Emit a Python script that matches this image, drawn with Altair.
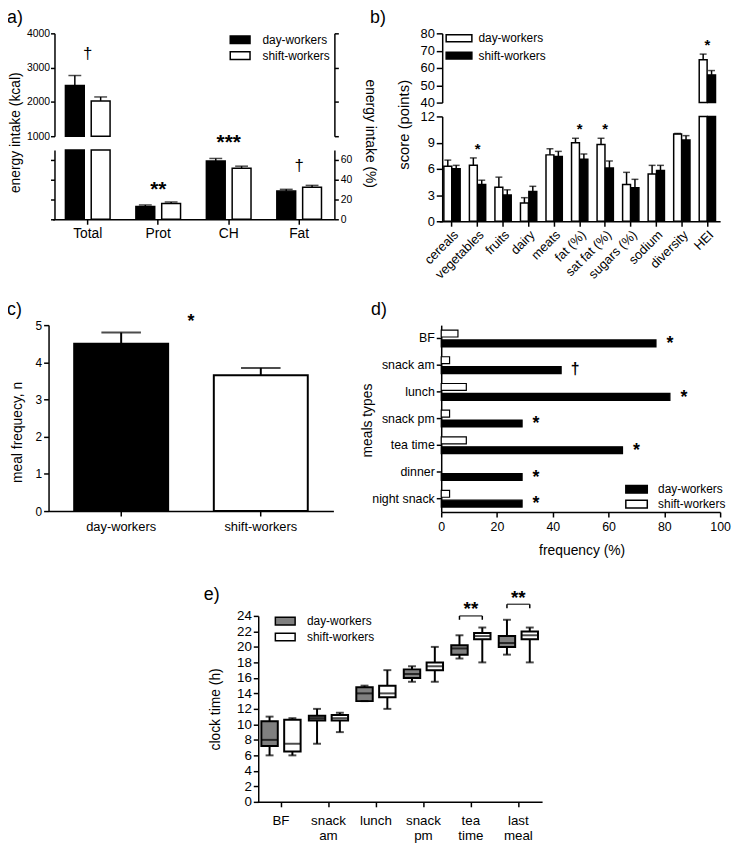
import altair as alt
import pandas as pd

FONT = "Liberation Sans"
W, H = 732, 837
OX, OY = 8, 8

groups = ["day-workers", "shift-workers"]
panel_letters = ["a)", "b)", "c)", "d)", "e)"]

# ---------------- panel a ----------------
a_categories = ["Total", "Prot", "CH", "Fat"]
a_day = [2480, 13, 59, 28.5]
a_day_err = [290, 1.5, 2.5, 1.8]
a_shift = [2030, 16, 51.5, 32.5]
a_shift_err = [115, 1.5, 2.2, 1.8]
a_sig = ["†", "**", "***", "†"]
a_sig_at = [3400, 31, 78, 54]
a_kcal_ticks = [1000, 2000, 3000, 4000]
a_pct_ticks = [0, 20, 40, 60]

# ---------------- panel b ----------------
b_categories = ["cereals", "vegetables", "fruits", "dairy", "meats", "fat (%)",
                "sat fat (%)", "sugars (%)", "sodium", "diversity", "HEI"]
b_day = [6.3, 6.4, 3.9, 2.1, 7.6, 9.0, 8.8, 4.2, 5.4, 10.0, 64.8]
b_day_err = [0.7, 0.85, 1.15, 0.6, 0.7, 0.5, 0.7, 1.4, 1.0, 0.05, 3.2]
b_shift = [6.0, 4.2, 3.0, 3.4, 7.4, 7.1, 6.1, 3.85, 5.8, 9.3, 56.0]
b_shift_err = [0.4, 0.5, 0.6, 0.6, 0.6, 0.6, 0.8, 0.95, 0.6, 0.5, 2.5]
b_sig_categories = ["vegetables", "fat (%)", "sat fat (%)", "HEI"]
b_sig_at = [8.3, 10.6, 10.6, 73.3]
b_high_ticks = [40, 50, 60, 70, 80]
b_low_ticks = [0, 3, 6, 9, 12]

# ---------------- panel c ----------------
c_mean = [4.5, 3.65]
c_err = [0.3, 0.2]
c_sig = ["*"]
c_sig_at = [5.07]
c_ticks = [0, 1, 2, 3, 4, 5]

# ---------------- panel d ----------------
d_categories = ["BF", "snack am", "lunch", "snack pm", "tea time", "dinner", "night snack"]
d_day = [77, 43, 82, 29, 65, 29, 29]
d_shift = [6, 3, 9, 3, 9, 0, 3]
d_sig = ["*", "†", "*", "*", "*", "*", "*"]
d_sig_at = [82, 48, 87, 34, 70, 34, 34]
d_ticks = [0, 20, 40, 60, 80, 100]

# ---------------- panel e ----------------
e_categories = ["BF", "snack am", "lunch", "snack pm", "tea time", "last meal"]
e_day_min = [6, 7.5, 13, 15.5, 18.5, 19]
e_day_q1 = [7.2, 10.5, 13, 16, 19, 20]
e_day_med = [8, 10.8, 14, 16.5, 19.8, 20.5]
e_day_q3 = [10.4, 11.1, 14.8, 17.1, 20.2, 21.4]
e_day_max = [11, 12, 15, 17.5, 21.5, 23.5]
e_shift_min = [6, 9, 12, 15.5, 18, 18]
e_shift_q1 = [6.5, 10.5, 13.5, 17, 21, 21]
e_shift_med = [7.5, 10.8, 14, 17.5, 21.4, 21.5]
e_shift_q3 = [10.6, 11.2, 15, 18, 21.8, 22]
e_shift_max = [10.8, 11.5, 17, 20, 22.5, 22.5]
e_pairs = ["tea time", "last meal"]
e_bracket_at = [24.0, 25.5]
e_leg_at = [23.5, 25.0]
e_sig = ["**", "**"]
e_sig_at = [25.1, 26.6]
e_ticks = list(range(0, 25, 2))


# ---------------- helpers ----------------
def grouped(cats, day, day_err, shift, shift_err):
    rows = []
    for c, v1, e1, v2, e2 in zip(cats, day, day_err, shift, shift_err):
        rows.append({"cat": c, "group": groups[0], "value": v1, "top": v1 + e1})
        rows.append({"cat": c, "group": groups[1], "value": v2, "top": v2 + e2})
    return pd.DataFrame(rows)


AX = dict(domainColor="black", domainWidth=1.5, tickColor="black", tickWidth=1.5,
          labelColor="black", titleColor="black", labelFont=FONT, titleFont=FONT,
          titleFontWeight="normal", grid=False, labelOverlap=False, labelFlush=False)


def axis(orient, at, **kw):
    if orient == "left":
        off = -(at - OX)
    elif orient == "right":
        off = (at - OX) - W
    else:
        off = (at - OY) - H
    opts = dict(AX)
    opts.update(kw)
    if "title" not in opts:
        opts["title"] = None
    return alt.Axis(orient=orient, offset=off, **opts)


def vtitle(text, cx, cy, at, size, angle=270):
    return dict(title=text, titleX=cx - at, titleY=cy - OY, titleAngle=angle,
                titleAlign="center", titleBaseline="middle", titleFontSize=size)


def htitle(text, cx, cy, at, size):
    return dict(title=text, titleX=cx - OX, titleY=cy - at, titleAngle=0,
                titleAlign="center", titleBaseline="middle", titleFontSize=size)


def band(cats, p0, p1, horiz=True, pi=0.0, po=0.0):
    o = OX if horiz else OY
    return alt.Scale(domain=cats, range=[p0 - o, p1 - o], paddingInner=pi, paddingOuter=po)


def lin(d0, d1, p0, p1, horiz=False, clamp=False):
    o = OX if horiz else OY
    return alt.Scale(domain=[d0, d1], range=[p0 - o, p1 - o], nice=False, zero=False, clamp=clamp)


def legend_rect(x_left, y_top, w, h, d, label_off, row_pad=0.0):
    sx, sy = w / d, h / d
    path = f"M{-sx:.3f},{-sy:.3f}H{sx:.3f}V{sy:.3f}H{-sx:.3f}Z"
    return alt.Legend(orient="none", legendX=x_left - OX, legendY=y_top - OY, title=None,
                      symbolType=path, symbolSize=d * d, symbolStrokeColor="black",
                      symbolStrokeWidth=1.5, labelFont=FONT, labelFontSize=12,
                      labelColor="black", labelOffset=label_off, rowPadding=row_pad, padding=0)


def bars(df, xs, xos, ys, base, fill, sw, xaxis=None, yaxis=None, legend=None, opacity=1.0):
    return alt.Chart(df).mark_bar(stroke="black", strokeWidth=sw, opacity=opacity).encode(
        x=alt.X("cat:N", scale=xs, axis=xaxis),
        xOffset=alt.XOffset("group:N", scale=xos),
        y=alt.Y("value:Q", scale=ys, axis=yaxis),
        y2=alt.datum(base),
        fill=alt.Fill("group:N", scale=fill, legend=legend),
    )


def errbars(df, xs, xos, ys, cap, sw=1.5):
    base = alt.Chart(df).encode(
        x=alt.X("cat:N", scale=xs, axis=None),
        xOffset=alt.XOffset("group:N", scale=xos),
    )
    r = base.mark_rule(color="black", strokeWidth=sw).encode(
        y=alt.Y("value:Q", scale=ys, axis=None), y2="top:Q")
    t = base.mark_tick(color="black", thickness=sw, size=cap, orient="horizontal").encode(
        y=alt.Y("top:Q", scale=ys, axis=None))
    return [r, t]


def sig(df, xs, ys, size, dy, weight="bold"):
    return alt.Chart(df).mark_text(font=FONT, fontSize=size, fontWeight=weight, dy=dy,
                                   baseline="middle", align="center", color="black").encode(
        x=alt.X("cat:N", scale=xs, axis=None),
        y=alt.Y("at:Q", scale=ys, axis=None),
        text="sig:N",
    )


layers = []

# ================= panel a =================
df_a = grouped(a_categories, a_day, a_day_err, a_shift, a_shift_err)
df_a_hi = df_a[df_a["cat"] == "Total"]
df_a_lo = df_a[df_a["cat"] != "Total"]
df_a_sig = pd.DataFrame({"cat": a_categories, "sig": a_sig, "at": a_sig_at})
xa = band(a_categories, 53, 338)
xoa = alt.Scale(domain=groups, paddingInner=0.27, paddingOuter=0.5)
fa = alt.Scale(domain=groups, range=["black", "white"])
ya_hi = lin(1000, 4000, 133, 29, clamp=True)
ya_lo = lin(0, 70, 217, 147, clamp=True)
ya_hi_t = lin(1000, 4000, 133, 29)
ya_lo_t = lin(0, 70, 217, 147)

layers += [
    bars(df_a_hi, xa, xoa, ya_hi, 1000, fa, 1.5,
         yaxis=axis("left", 55, values=a_kcal_ticks, format="d", labelFontSize=10.5, tickSize=4,
                    labelPadding=1, **vtitle("energy intake (kcal)", 16, 129, 55, 14)),
         legend=legend_rect(233.7, 26.5, 20, 7.7, 16, 13.6)),
    bars(df_a_hi, xa, xoa, ya_hi, 1000, fa, 0,
         yaxis=axis("right", 338, values=a_kcal_ticks, labels=False, tickSize=4), opacity=0),
    *errbars(df_a_hi, xa, xoa, ya_hi, 13),
    bars(df_a, xa, xoa, ya_lo, 0, fa, 1.5,
         xaxis=axis("bottom", 217, labelFontSize=14, labelAngle=0, tickSize=5, labelPadding=2),
         yaxis=axis("left", 55, values=a_pct_ticks, labels=False, tickSize=4)),
    bars(df_a, xa, xoa, ya_lo, 0, fa, 0,
         yaxis=axis("right", 338, values=a_pct_ticks, labelFontSize=10.5, tickSize=4, labelPadding=2,
                    **vtitle("energy intake (%)", 373, 130, 338, 14, angle=90)), opacity=0),
    *errbars(df_a_lo, xa, xoa, ya_lo, 13),
    sig(df_a_sig[df_a_sig["cat"] == "Total"], xa, ya_hi_t, 17, 0, "normal"),
    sig(df_a_sig[(df_a_sig["cat"] != "Total") & (df_a_sig["sig"] == "†")], xa, ya_lo_t, 17, 0, "normal"),
    sig(df_a_sig[df_a_sig["sig"].str.startswith("*")], xa, ya_lo_t, 21, 1),
]

# ================= panel b =================
df_b = grouped(b_categories, b_day, b_day_err, b_shift, b_shift_err)
df_b_hi = df_b[df_b["cat"] == "HEI"]
df_b_lo = df_b[df_b["cat"] != "HEI"]
df_b_sig = pd.DataFrame({"cat": b_sig_categories, "sig": ["*"] * len(b_sig_categories), "at": b_sig_at})
xb = band(b_categories, 444, 728)
xob = alt.Scale(domain=groups, paddingInner=0.06, paddingOuter=0.55)
fb = alt.Scale(domain=groups, range=["white", "black"])
yb_hi = lin(40, 80, 99, 29, clamp=True)
yb_lo = lin(0, 12, 219, 113, clamp=True)
yb_hi_t = lin(40, 80, 99, 29)
yb_lo_t = lin(0, 12, 219, 113)

layers += [
    bars(df_b_hi, xb, xob, yb_hi, 40, fb, 1.5,
         yaxis=axis("left", 447, values=b_high_ticks, labelFontSize=13, tickSize=6, labelPadding=2,
                    **vtitle("score (points)", 408, 121, 447, 15)),
         legend=legend_rect(454, 24, 26, 7, 18, 9.7, 0.5)),
    *errbars(df_b_hi, xb, xob, yb_hi, 7),
    bars(df_b, xb, xob, yb_lo, 0, fb, 1.5,
         xaxis=axis("bottom", 219, labelFontSize=13, labelAngle=315, tickSize=5, labelPadding=2),
         yaxis=axis("left", 447, values=b_low_ticks, labelFontSize=13, tickSize=6, labelPadding=2)),
    *errbars(df_b_lo, xb, xob, yb_lo, 7),
    sig(df_b_sig[df_b_sig["cat"] != "HEI"], xb, yb_lo_t, 15, 0),
    sig(df_b_sig[df_b_sig["cat"] == "HEI"], xb, yb_hi_t, 15, 0),
]

# ================= panel c =================
df_c = pd.DataFrame({"cat": groups, "group": groups, "value": c_mean,
                     "top": [m + e for m, e in zip(c_mean, c_err)]})
df_c_sig = pd.DataFrame({"cat": [groups[0]], "sig": c_sig, "at": c_sig_at})
xc = band(groups, 49, 337, po=0.02)
yc = lin(0, 5, 512, 324)
fc = alt.Scale(domain=groups, range=["black", "white"])
layers += [
    alt.Chart(df_c).mark_bar(size=95, stroke="black", strokeWidth=2).encode(
        x=alt.X("cat:N", scale=xc, axis=axis("bottom", 512, labelFontSize=13, labelAngle=0,
                                             tickSize=5, labelPadding=5)),
        y=alt.Y("value:Q", scale=yc, axis=axis("left", 49, values=c_ticks, labelFontSize=12,
                                               tickSize=5, labelPadding=2,
                                               **vtitle("meal frequecy, n", 18, 432, 49, 14))),
        y2=alt.datum(0),
        fill=alt.Fill("group:N", scale=fc, legend=None),
    ),
    alt.Chart(df_c).mark_rule(color="black", strokeWidth=2).encode(
        x=alt.X("cat:N", scale=xc, axis=None),
        y=alt.Y("value:Q", scale=yc, axis=None), y2="top:Q"),
    alt.Chart(df_c).mark_tick(color="black", thickness=2, size=40, orient="horizontal").encode(
        x=alt.X("cat:N", scale=xc, axis=None),
        y=alt.Y("top:Q", scale=yc, axis=None)),
    # star placed midway between the two bars (half a band step to the right)
    alt.Chart(df_c_sig).mark_text(font=FONT, fontSize=18, fontWeight="bold", dx=72, dy=0,
                                  baseline="middle", color="black").encode(
        x=alt.X("cat:N", scale=xc, axis=None),
        y=alt.Y("at:Q", scale=yc, axis=None),
        text="sig:N"),
]

# ================= panel d =================
d_rows = []
for c, v1, v2 in zip(d_categories, d_day, d_shift):
    d_rows.append({"cat": c, "group": groups[0], "value": v1})
    d_rows.append({"cat": c, "group": groups[1], "value": v2})
df_d = pd.DataFrame(d_rows)
df_d = df_d[df_d["value"] > 0]
df_d_sig = pd.DataFrame({"cat": d_categories, "group": groups[0], "sig": d_sig, "at": d_sig_at})
xd = lin(0, 100, 446, 728, horiz=True)
yd = band(d_categories, 324, 513, horiz=False)
yod = alt.Scale(domain=[groups[1], groups[0]], paddingInner=0.3, paddingOuter=0.5)
fd = alt.Scale(domain=groups, range=["black", "white"])


def d_sig_layer(df, size, dy, weight):
    return alt.Chart(df).mark_text(font=FONT, fontSize=size, fontWeight=weight, dy=dy,
                                   baseline="middle", align="center", color="black").encode(
        y=alt.Y("cat:N", scale=yd, axis=None),
        yOffset=alt.YOffset("group:N", scale=yod),
        x=alt.X("at:Q", scale=xd, axis=None),
        text="sig:N")


layers += [
    alt.Chart(df_d).mark_bar(stroke="black", strokeWidth=1.2).encode(
        y=alt.Y("cat:N", scale=yd, axis=axis("left", 446, labelFontSize=12.5, tickSize=5,
                                             labelPadding=2,
                                             **vtitle("meals types", 372, 420, 446, 14))),
        yOffset=alt.YOffset("group:N", scale=yod),
        x=alt.X("value:Q", scale=xd, axis=axis("bottom", 513, values=d_ticks, labelFontSize=12.5,
                                               tickSize=5, labelPadding=4,
                                               **htitle("frequency (%)", 588, 552, 513, 14))),
        x2=alt.datum(0),
        fill=alt.Fill("group:N", scale=fd, legend=legend_rect(635.5, 482, 21.7, 7.7, 14, 13.8)),
    ),
    d_sig_layer(df_d_sig[df_d_sig["sig"] == "*"], 18, -1, "bold"),
    d_sig_layer(df_d_sig[df_d_sig["sig"] == "†"], 16, -3, "bold"),
]

# ================= panel e =================
e_rows = []
for i, c in enumerate(e_categories):
    e_rows.append({"cat": c, "group": groups[0], "lo": e_day_min[i], "q1": e_day_q1[i],
                   "med": e_day_med[i], "q3": e_day_q3[i], "hi": e_day_max[i]})
    e_rows.append({"cat": c, "group": groups[1], "lo": e_shift_min[i], "q1": e_shift_q1[i],
                   "med": e_shift_med[i], "q3": e_shift_q3[i], "hi": e_shift_max[i]})
df_e = pd.DataFrame(e_rows)
df_br = pd.DataFrame({"cat": e_pairs, "at": e_bracket_at, "sig": e_sig, "sat": e_sig_at})
leg_rows = []
for c, lo, hi in zip(e_pairs, e_leg_at, e_bracket_at):
    for g in groups:
        leg_rows.append({"cat": c, "group": g, "lo": lo, "hi": hi})
df_legs = pd.DataFrame(leg_rows)
xe = band(e_categories, 260, 548)
xoe = alt.Scale(domain=groups, paddingInner=0.28, paddingOuter=0.18)
ye = lin(0, 24, 806, 618)
fe = alt.Scale(domain=groups, range=["#808080", "white"])


def e_base(df, offset=True):
    enc = dict(x=alt.X("cat:N", scale=xe, axis=None))
    if offset:
        enc["xOffset"] = alt.XOffset("group:N", scale=xoe)
    return alt.Chart(df).encode(**enc)


layers += [
    e_base(df_e).mark_rule(color="black", strokeWidth=2).encode(
        y=alt.Y("lo:Q", scale=ye, axis=None), y2="hi:Q"),
    alt.Chart(df_e).mark_bar(stroke="black", strokeWidth=2).encode(
        x=alt.X("cat:N", scale=xe, axis=axis("bottom", 806, labelFontSize=13.5, labelAngle=0,
                                             tickSize=5, labelPadding=7,
                                             labelExpr="split(datum.label, ' ')",
                                             labelLineHeight=15)),
        xOffset=alt.XOffset("group:N", scale=xoe),
        y=alt.Y("q1:Q", scale=ye, axis=axis("left", 261, values=e_ticks, labelFontSize=13.5,
                                            tickSize=5, labelPadding=2,
                                            **vtitle("clock time (h)", 218, 712, 261, 14))),
        y2="q3:Q",
        fill=alt.Fill("group:N", scale=fe, legend=legend_rect(279.8, 614.8, 20, 7.7, 15, 13.5)),
    ),
    e_base(df_e).mark_tick(color="black", thickness=2, size=16.5, orient="horizontal").encode(
        y=alt.Y("med:Q", scale=ye, axis=None)),
    e_base(df_e).mark_tick(color="black", thickness=2, size=8, orient="horizontal").encode(
        y=alt.Y("lo:Q", scale=ye, axis=None)),
    e_base(df_e).mark_tick(color="black", thickness=2, size=8, orient="horizontal").encode(
        y=alt.Y("hi:Q", scale=ye, axis=None)),
    e_base(df_br, offset=False).mark_tick(color="black", thickness=1.5, size=23,
                                          orient="horizontal").encode(
        y=alt.Y("at:Q", scale=ye, axis=None)),
    e_base(df_legs).mark_rule(color="black", strokeWidth=1.5).encode(
        y=alt.Y("lo:Q", scale=ye, axis=None), y2="hi:Q"),
    e_base(df_br, offset=False).mark_text(font=FONT, fontSize=19, fontWeight="bold", dy=2,
                                          baseline="middle", color="black").encode(
        y=alt.Y("sat:Q", scale=ye, axis=None), text="sig:N"),
]

# ================= panel letters =================
letter_xy = [(-1, 10.3), (366, 10.3), (-1, 305.3), (367, 305.3), (198, 593.7)]
for lab, (lx, ly) in zip(panel_letters, letter_xy):
    layers.append(
        alt.Chart(pd.DataFrame({"t": [lab]})).mark_text(
            font=FONT, fontSize=18, align="left", baseline="alphabetic", color="black").encode(
            text="t:N", x=alt.value(lx), y=alt.value(ly))
    )

chart = alt.layer(*layers).resolve_scale(
    x="independent", y="independent", xOffset="independent", yOffset="independent",
    fill="independent"
).resolve_axis(x="independent", y="independent").resolve_legend(fill="independent").properties(
    width=W, height=H, padding=0, autosize=alt.AutoSizeParams(type="none")
).configure_view(strokeWidth=0)

chart.save("out.html", embed_options={"renderer": "svg", "actions": False})
